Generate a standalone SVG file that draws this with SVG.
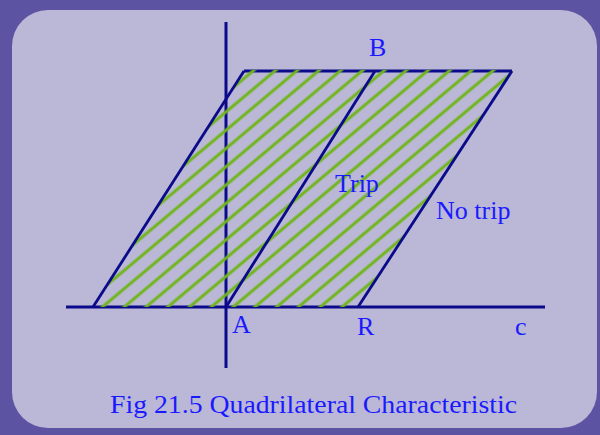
<svg xmlns="http://www.w3.org/2000/svg" width="600" height="435" viewBox="0 0 600 435">
<style>
.ax{stroke:#0a0a8a;stroke-width:3;fill:none}
.ed{stroke:#0a0a8a;stroke-width:2.8;fill:none}
.lb{font-family:"Liberation Serif","Times New Roman",serif;fill:#1a1aff;font-size:26px}
</style>
<defs>
<pattern id="hatch" width="14" height="14" patternUnits="userSpaceOnUse" patternTransform="rotate(-40)">
<line x1="-2" y1="7" x2="16" y2="7" stroke="#6fb51c" stroke-width="3"/>
</pattern>
<clipPath id="pg"><polygon points="93,307 244.5,69.5 513,69.5 358,307"/></clipPath>
</defs>
<rect x="0" y="0" width="600" height="435" fill="#5d53a3"/>
<rect x="12" y="10" width="585" height="418" rx="36" ry="36" fill="#bbb7d6"/>
<g id="connectors">
<line class="ax" x1="66" y1="307" x2="545" y2="307"/>
<line class="ax" x1="226" y1="22" x2="226" y2="368"/>
<line class="ed" x1="244" y1="71" x2="512" y2="71"/>
</g>
<g id="region">
<polygon points="93,307 244.5,69.5 513,69.5 358,307" fill="url(#hatch)" clip-path="url(#pg)" stroke="none"/>
<line class="ed" x1="93" y1="307" x2="244" y2="71"/>
<line class="ed" x1="226" y1="307" x2="375" y2="71"/>
<line class="ed" x1="358" y1="307" x2="512" y2="71"/>
</g>
<g id="labels">
<text class="lb" x="369" y="56">B</text>
<text class="lb" x="232" y="333">A</text>
<text class="lb" x="357" y="335">R</text>
<text class="lb" x="515" y="335">c</text>
<text class="lb" x="335" y="192">Trip</text>
<text class="lb" x="436" y="219">No trip</text>
<text class="lb" x="110" y="413" textLength="407" lengthAdjust="spacingAndGlyphs">Fig 21.5 Quadrilateral Characteristic</text>
</g>
</svg>
